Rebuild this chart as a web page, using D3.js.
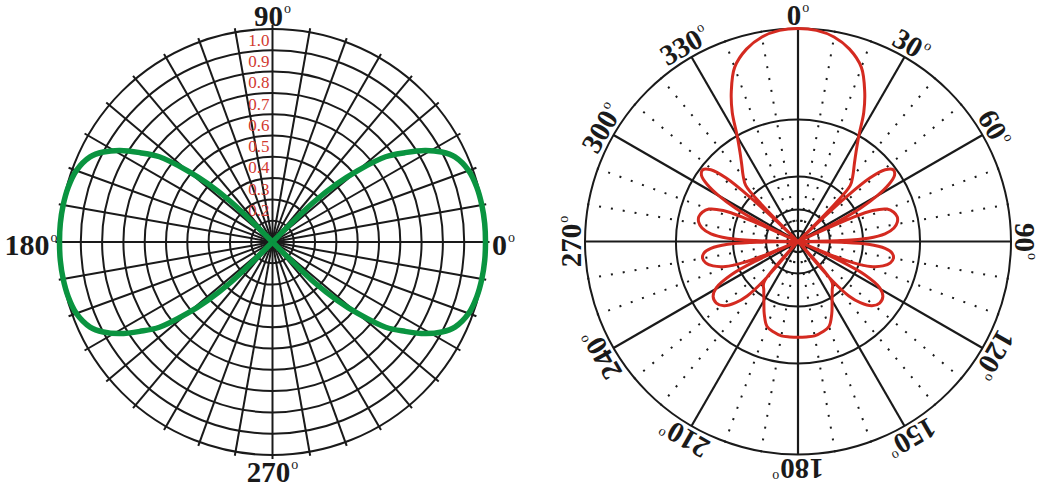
<!DOCTYPE html>
<html><head><meta charset="utf-8">
<script src="https://cdn.jsdelivr.net/npm/d3@7"></script>
<style>body{margin:0;background:#fff}svg{display:block}</style>
</head><body>
<svg id="c" width="1041" height="489"></svg>
<script>
// ---------- LEFT CHART DATA ----------
const leftRings = [0.1,0.2,0.3,0.4,0.5,0.6,0.7,0.8,0.9,1.0];
const leftRingLabelValues = [0.2,0.3,0.4,0.5,0.6,0.7,0.8,0.9,1.0];
const leftRingLabels = ["0.2","0.3","0.4","0.5","0.6","0.7","0.8","0.9","1.0"];
const leftSpokeAngles = [0,10,20,30,40,50,60,70,80,90,100,110,120,130,140,150,160,170,180,190,200,210,220,230,240,250,260,270,280,290,300,310,320,330,340,350];
const leftAxisAngles = [0,90,180,270];
const leftAxisTexts = ["0","90","180","270"];
// green pattern: angle offsets around each lobe centre (deg) and radii
const greenOffsets = [-45.5,-44,-42,-40,-37,-34,-31,-28,-25,-20,-15,-10,-5,0,5,10,15,20,25,28,31,34,37,40,42,44,45.5];
const greenRightR = [0,0.27,0.41,0.52,0.665,0.75,0.835,0.9,0.945,0.98,0.993,0.998,1,1,1,0.998,0.993,0.98,0.945,0.9,0.835,0.75,0.665,0.52,0.41,0.27,0];
const greenLeftR  = [0,0.27,0.41,0.52,0.665,0.75,0.835,0.9,0.945,0.98,0.993,0.998,1,1,1,0.998,0.993,0.98,0.945,0.9,0.835,0.75,0.665,0.52,0.41,0.27,0];
const greenLobeCentres = [0,180];

// ---------- RIGHT CHART DATA ----------
const rightSolidRings = [1,0.573,0.305,0.15,0.05];
const rightDottedRings = [0.098];
const rightMajorAngles = [0,30,60,90,120,150,180,210,240,270,300,330];
const rightMinorAngles = [10,20,40,50,70,80,100,110,130,140,160,170,190,200,220,230,250,260,280,290,310,320,340,350];
const rightAxisTexts = ["0","30","60","90","120","150","180","210","240","270","300","330"];
const redAngles = [
  0,5,10,15,20,24,27,30,33,36,40,43,44.5,45.5,
  46.5,47.2,48.5,50.5,53,55.5,58,60,62,63.5,64.5,
  65.5,66.2,67.5,70,73,76,79,82,85,87.3,88.7,89.6,
  90.4,91.1,92.3,94.5,97,100,103,106,109,111,112.3,113,
  114,114.8,116.5,119.5,123,127,131,134.5,137,138.8,139.5,
  140.2,145,150,155,160,165,170,175,180,
  185,190,195,200,205,210,215,219.8,
  220.5,221.2,223,225.5,229,233,237,240.5,243.5,245.2,246,
  247,247.7,249,251,254,257,260,263,265.5,267.7,268.9,269.6,
  270.4,271.3,272.7,275,278,281,284,287,290,292.5,293.8,294.5,
  295.5,296.5,298,300,302,304.5,307,309.5,311.5,312.8,313.5,
  314.5,315.5,317,320,324,327,330,333,336,340,345,350,355];
const redValues = [
  1.0,0.995,0.975,0.935,0.87,0.77,0.68,0.57,0.5,0.45,0.4,0.36,0.25,0,
  0,0.3,0.45,0.53,0.56,0.55,0.5,0.43,0.33,0.2,0,
  0,0.27,0.38,0.445,0.47,0.48,0.475,0.455,0.41,0.33,0.2,0,
  0,0.22,0.33,0.41,0.445,0.455,0.445,0.415,0.36,0.28,0.16,0,
  0,0.22,0.35,0.44,0.475,0.48,0.46,0.41,0.35,0.25,0,
  0.25,0.28,0.32,0.375,0.425,0.44,0.45,0.45,0.45,
  0.45,0.45,0.44,0.425,0.375,0.32,0.28,0.25,
  0,0.25,0.35,0.41,0.46,0.48,0.475,0.44,0.35,0.22,0,
  0,0.16,0.28,0.36,0.415,0.445,0.455,0.445,0.41,0.33,0.22,0,
  0,0.2,0.33,0.41,0.455,0.475,0.48,0.47,0.445,0.38,0.27,0,
  0,0.2,0.33,0.43,0.5,0.55,0.56,0.53,0.45,0.3,0,
  0,0.25,0.36,0.4,0.45,0.5,0.57,0.68,0.77,0.87,0.935,0.975,0.995];

// ---------- DRAW ----------
const svg = d3.select("#c");
const ink = "#1a1a1a";
const serif = "'Liberation Serif','Times New Roman',serif";
const rad = d => d*Math.PI/180;

function degLabel(sel, txt, supSize, supDy){
  sel.append("tspan").text(txt);
  sel.append("tspan").style("font-size", supSize+"px").style("font-weight","normal")
    .attr("dx",1).attr("dy", supDy).text("o");
}

// LEFT
const L = {cx:272.5, cy:242, R:213};
const rL = d3.scaleLinear().domain([0,1]).range([0,L.R]);
const gL = svg.append("g").attr("transform",`translate(${L.cx},${L.cy})`);
gL.selectAll("line.sp").data(leftSpokeAngles).join("line").attr("class","sp")
  .attr("x1",0).attr("y1",0)
  .attr("x2",d=>Math.cos(rad(d))*(rL(1)+4)).attr("y2",d=>-Math.sin(rad(d))*(rL(1)+4))
  .attr("stroke",ink).attr("stroke-width",2);
gL.selectAll("circle.ring").data(leftRings).join("circle").attr("class","ring")
  .attr("r",d=>rL(d)).attr("fill","none").attr("stroke",ink).attr("stroke-width",2);
gL.selectAll("text.rl").data(leftRingLabelValues).join("text").attr("class","rl")
  .attr("x",-3).attr("y",d=>-rL(d-0.05)).attr("dy","0.35em")
  .attr("text-anchor","end").attr("font-family",serif).attr("font-size",17)
  .attr("fill","#d23a30").text((d,i)=>leftRingLabels[i]);
const greenLine = d3.lineRadial().curve(d3.curveCatmullRom.alpha(0.5));
greenLobeCentres.forEach((c,k)=>{
  const rs = k===0 ? greenRightR : greenLeftR;
  const pts = greenOffsets.map((o,i)=>[rad(90-(c+o)), rL(rs[i])]);
  gL.append("path").attr("d",greenLine(pts)).attr("fill","none")
    .attr("stroke","#0a9440").attr("stroke-width",5.5).attr("stroke-linejoin","round");
});
// axis labels
const lpos = {
  0:{x:L.R+6.5, y:13, a:"start", fs:30},
  90:{x:0, y:-L.R-3, a:"middle", fs:29},
  180:{x:-L.R-2, y:13, a:"end", fs:30},
  270:{x:0, y:L.R+27, a:"middle", fs:29}
};
leftAxisAngles.forEach((a,i)=>{
  const p = lpos[a];
  const t = gL.append("text").attr("x",p.x).attr("y",p.y).attr("text-anchor",p.a)
    .attr("font-family",serif).attr("font-weight","bold").attr("font-size",p.fs).attr("fill",ink);
  degLabel(t, leftAxisTexts[i], 14, -13);
});

// RIGHT
const Rc = {cx:798, cy:241.5, R:213};
const rR = d3.scaleLinear().domain([0,1]).range([0,Rc.R]);
const gR = svg.append("g").attr("transform",`translate(${Rc.cx},${Rc.cy})`);
gR.selectAll("line.mn").data(rightMinorAngles).join("line").attr("class","mn")
  .attr("x1",d=>Math.sin(rad(d))*(rR(1)+1)).attr("y1",d=>-Math.cos(rad(d))*(rR(1)+1))
  .attr("x2",d=>Math.sin(rad(d))*20).attr("y2",d=>-Math.cos(rad(d))*20)
  .attr("stroke",ink).attr("stroke-width",2).attr("stroke-dasharray","2 10");
gR.selectAll("line.mj").data(rightMajorAngles).join("line").attr("class","mj")
  .attr("x1",0).attr("y1",0)
  .attr("x2",d=>Math.sin(rad(d))*rR(1)).attr("y2",d=>-Math.cos(rad(d))*rR(1))
  .attr("stroke",ink).attr("stroke-width",2.2);
gR.selectAll("circle.sr").data(rightSolidRings).join("circle").attr("class","sr")
  .attr("r",d=>rR(d)).attr("fill","none").attr("stroke",ink).attr("stroke-width",2);
gR.selectAll("circle.dr").data(rightDottedRings).join("circle").attr("class","dr")
  .attr("r",d=>rR(d)).attr("fill","none").attr("stroke",ink).attr("stroke-width",2).attr("stroke-dasharray","1.5 2.5");
const redLine = d3.lineRadial().curve(d3.curveCatmullRomClosed.alpha(0.5));
const redPts = redAngles.map((a,i)=>[rad(a), rR(redValues[i])]);
gR.append("path").attr("d",redLine(redPts)).attr("fill","none")
  .attr("stroke","#d42a20").attr("stroke-width",3).attr("stroke-linejoin","round");
rightMajorAngles.forEach((a,i)=>{
  const t = gR.append("text").attr("transform",`rotate(${a})`).attr("x",0).attr("y",-(rR(1)+4))
    .attr("text-anchor","middle").attr("font-family",serif).attr("font-weight","bold")
    .attr("font-size",29).attr("fill",ink);
  degLabel(t, rightAxisTexts[i], 14, -13);
});
</script>
</body></html>
